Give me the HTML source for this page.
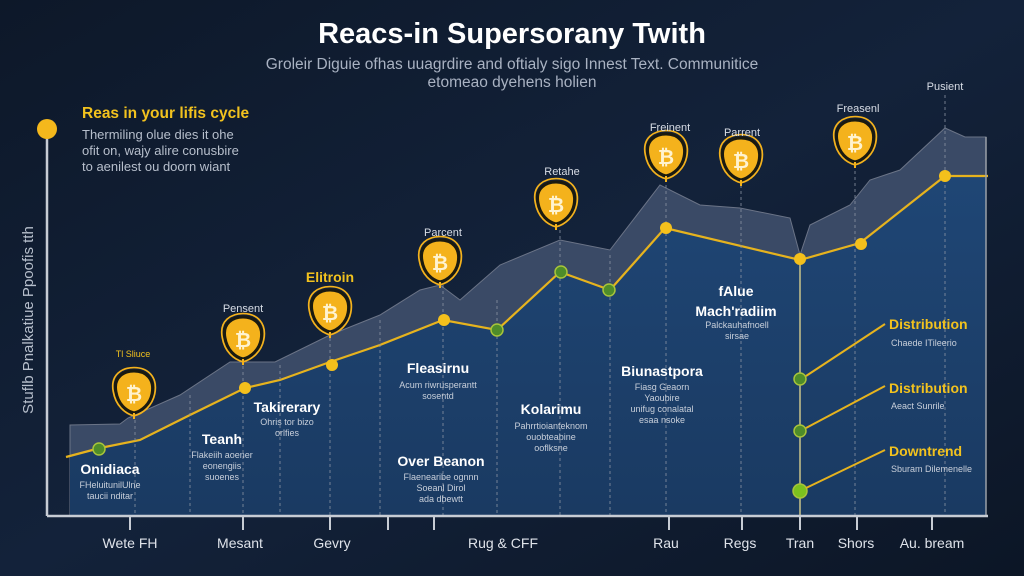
<!DOCTYPE html>
<html><head><meta charset="utf-8"><style>
html,body{margin:0;padding:0;background:#0e1a2e}
svg{display:block}
text{font-family:"Liberation Sans",sans-serif}
</style></head><body>
<svg width="1024" height="576" viewBox="0 0 1024 576" xmlns="http://www.w3.org/2000/svg">
<defs>
<linearGradient id="bg" x1="0" y1="0" x2="1" y2="1">
<stop offset="0" stop-color="#0d1829"/><stop offset="0.5" stop-color="#13223a"/><stop offset="1" stop-color="#0c1626"/>
</linearGradient>
<linearGradient id="bl" x1="0" y1="0" x2="0" y2="1">
<stop offset="0" stop-color="#1f4675"/><stop offset="1" stop-color="#1a3a62"/>
</linearGradient>
<g id="coin">
<path d="M-18,-2 C-21,-17 -10,-23 0,-23 C12,-23 21,-15 18,0 C16,10 8,17 0,19 C-8,17 -16,10 -18,-2Z" fill="#f4b21c" stroke="#1a1a10" stroke-width="3"/>
<path d="M-18,-2 C-21,-17 -10,-23 0,-23 C12,-23 21,-15 18,0 C16,10 8,17 0,19 C-8,17 -16,10 -18,-2Z" fill="none" stroke="#f4b21c" stroke-width="1.5" transform="scale(1.15)"/>
<text x="0" y="7" font-size="20" font-weight="bold" fill="#fff3d0" text-anchor="middle">₿</text>
<line x1="0" y1="19" x2="0" y2="25" stroke="#f4b21c" stroke-width="2"/>
</g>
</defs>
<rect width="1024" height="576" fill="url(#bg)"/>

<text x="512" y="43" font-size="29" font-weight="bold" fill="#ffffff" text-anchor="middle">Reacs-in Supersorany Twith</text>
<text x="512" y="69" font-size="15.5" fill="#a9b2c2" text-anchor="middle">Groleir Diguie ofhas uuagrdire and oftialy sigo Innest Text. Communitice</text>
<text x="512" y="87" font-size="15.5" fill="#a9b2c2" text-anchor="middle">etomeao dyehens holien</text>

<text x="82" y="118" font-size="15.5" font-weight="bold" fill="#f2c21e">Reas in your lifis cycle</text>
<text x="82" y="139" font-size="13" fill="#b7bfcc">Thermiling olue dies it ohe</text>
<text x="82" y="155" font-size="13" fill="#b7bfcc">ofit on, wajy alire conusbire</text>
<text x="82" y="171" font-size="13" fill="#b7bfcc">to aenilest ou doorn wiant</text>

<text transform="translate(33,320) rotate(-90)" font-size="15" fill="#b7bfcc" text-anchor="middle">Stuflb Pnalkatiue Ppoofis tth</text>

<path d="M70,515 L70,425 L120,424 L128,418 L180,395 L230,362 L275,362 L330,335 L380,315 L420,290 L440,285 L460,300 L500,265 L560,240 L610,250 L660,185 L700,205 L740,208 L790,218 L800,255 L810,225 L850,205 L870,180 L900,170 L945,128 L965,137 L986,137 L986,515Z" fill="#3a4a66" stroke="#6b7487" stroke-width="1"/>
<path d="M70,515 L70,455 L100,448 L140,440 L190,415 L245,388 L280,380 L330,362 L380,345 L443,320 L497,330 L560,272 L610,290 L665,228 L800,260 L860,243 L945,176 L986,176 L986,515Z" fill="url(#bl)"/>
<polyline points="66,457 100,448 140,440 190,415 245,388 280,380 330,362 380,345 443,320 497,330 560,272 610,290 665,228 800,260 860,243 945,176 988,176" fill="none" stroke="#e6b31e" stroke-width="2.2"/>

<g stroke="#8a93a3" stroke-width="1" stroke-dasharray="3,3" opacity="0.8">
<line x1="135" y1="420" x2="135" y2="515"/><line x1="190" y1="395" x2="190" y2="515"/>
<line x1="243" y1="360" x2="243" y2="515"/><line x1="280" y1="365" x2="280" y2="515"/>
<line x1="330" y1="338" x2="330" y2="515"/><line x1="380" y1="320" x2="380" y2="515"/>
<line x1="443" y1="285" x2="443" y2="515"/><line x1="497" y1="300" x2="497" y2="515"/>
<line x1="560" y1="230" x2="560" y2="515"/><line x1="610" y1="255" x2="610" y2="515"/>
<line x1="666" y1="185" x2="666" y2="515"/><line x1="741" y1="185" x2="741" y2="515"/>
<line x1="855" y1="165" x2="855" y2="515"/><line x1="945" y1="95" x2="945" y2="515"/>
</g>
<line x1="800" y1="260" x2="800" y2="515" stroke="#c9c38a" stroke-width="1.5"/>
<line x1="986" y1="137" x2="986" y2="515" stroke="#9aa0a8" stroke-width="1.5"/>

<line x1="47" y1="130" x2="47" y2="516" stroke="#c7ccd4" stroke-width="2.5"/>
<line x1="47" y1="516" x2="988" y2="516" stroke="#c7ccd4" stroke-width="2.5"/>
<circle cx="47" cy="129" r="10" fill="#f4b81c"/>
<g stroke="#c7ccd4" stroke-width="2">
<line x1="130" y1="516" x2="130" y2="530"/><line x1="243" y1="516" x2="243" y2="530"/><line x1="330" y1="516" x2="330" y2="530"/>
<line x1="388" y1="516" x2="388" y2="530"/><line x1="434" y1="516" x2="434" y2="530"/><line x1="669" y1="516" x2="669" y2="530"/>
<line x1="742" y1="516" x2="742" y2="530"/><line x1="800" y1="516" x2="800" y2="530"/><line x1="857" y1="516" x2="857" y2="530"/><line x1="932" y1="516" x2="932" y2="530"/>
</g>
<g font-size="14" fill="#dfe3ea" text-anchor="middle">
<text x="130" y="548">Wete FH</text><text x="240" y="548">Mesant</text><text x="332" y="548">Gevry</text>
<text x="503" y="548">Rug &amp; CFF</text><text x="666" y="548">Rau</text><text x="740" y="548">Regs</text>
<text x="800" y="548">Tran</text><text x="856" y="548">Shors</text><text x="932" y="548">Au. bream</text>
</g>

<g fill="#f4c01c">
<circle cx="245" cy="388" r="6"/><circle cx="332" cy="365" r="6"/><circle cx="444" cy="320" r="6"/>
<circle cx="666" cy="228" r="6"/><circle cx="800" cy="259" r="6"/><circle cx="861" cy="244" r="6"/><circle cx="945" cy="176" r="6"/>
</g>
<g fill="#4e8c2a" stroke="#a8c43a" stroke-width="1.5">
<circle cx="99" cy="449" r="6"/><circle cx="497" cy="330" r="6"/><circle cx="561" cy="272" r="6"/><circle cx="609" cy="290" r="6"/>
<circle cx="800" cy="379" r="6"/><circle cx="800" cy="431" r="6"/><circle cx="800" cy="491" r="7" fill="#7cc21e"/>
</g>
<g stroke="#e6b31e" stroke-width="2">
<line x1="806" y1="376" x2="885" y2="324"/><line x1="806" y1="428" x2="885" y2="386"/><line x1="806" y1="488" x2="885" y2="450"/>
</g>

<use href="#coin" x="134" y="394"/><use href="#coin" x="243" y="340"/><use href="#coin" x="330" y="313"/>
<use href="#coin" x="440" y="263"/><use href="#coin" x="556" y="205"/><use href="#coin" x="666" y="157"/>
<use href="#coin" x="741" y="161"/><use href="#coin" x="855" y="143"/>
<g font-size="11" fill="#d8dde6" text-anchor="middle">
<text x="133" y="357" font-size="9" fill="#f2c21e">Tl Sliuce</text>
<text x="243" y="312">Pensent</text><text x="443" y="236">Parcent</text>
<text x="562" y="175">Retahe</text><text x="670" y="131">Freinent</text><text x="742" y="136">Parrent</text>
<text x="858" y="112">Freasenl</text><text x="945" y="90">Pusient</text>
</g>
<text x="330" y="282" font-size="14" font-weight="bold" fill="#f2c21e" text-anchor="middle">Elitroin</text>

<g text-anchor="middle" fill="#ffffff" font-weight="bold" font-size="14">
<text x="110" y="474">Onidiaca</text><text x="222" y="444">Teanh</text><text x="287" y="412">Takirerary</text>
<text x="438" y="373">Fleasirnu</text><text x="441" y="466">Over Beanon</text><text x="551" y="414">Kolarimu</text>
<text x="736" y="296">fAlue</text>
<text x="736" y="316">Mach'radiim</text>
<text x="662" y="376">Biunastpora</text>
</g>
<g text-anchor="middle" fill="#c8cfda" font-size="9">
<text x="110" y="488">FHeluitunilUlne</text><text x="110" y="499">taucii nditar</text>
<text x="222" y="458">Flakeiih aoener</text><text x="222" y="469">eonengiis</text><text x="222" y="480">suoenes</text>
<text x="287" y="425">Ohris tor bizo</text><text x="287" y="436">orlfies</text>
<text x="438" y="388">Acum riwrusperantt</text><text x="438" y="399">sosentd</text>
<text x="441" y="480">Flaenearibe ognnn</text><text x="441" y="491">Soeanl Dirol</text><text x="441" y="502">ada dbewtt</text>
<text x="551" y="429">Pahrrtioianteknom</text><text x="551" y="440">ouobteabine</text><text x="551" y="451">ooflksne</text>
<text x="737" y="328">Palckauhafnoell</text><text x="737" y="339">sirsae</text>
<text x="662" y="390">Fiasg Geaorn</text><text x="662" y="401">Yaoubire</text><text x="662" y="412">unifug conalatal</text><text x="662" y="423">esaa nsoke</text>
</g>
<g font-weight="bold" font-size="14" fill="#f2c21e">
<text x="889" y="329">Distribution</text><text x="889" y="393">Distribution</text><text x="889" y="456">Downtrend</text>
</g>
<g font-size="9" fill="#c8cfda">
<text x="891" y="346">Chaede ITileerio</text><text x="891" y="409">Aeact Sunrile</text><text x="891" y="472">Sburam Dilemenelle</text>
</g>
</svg>
</body></html>
